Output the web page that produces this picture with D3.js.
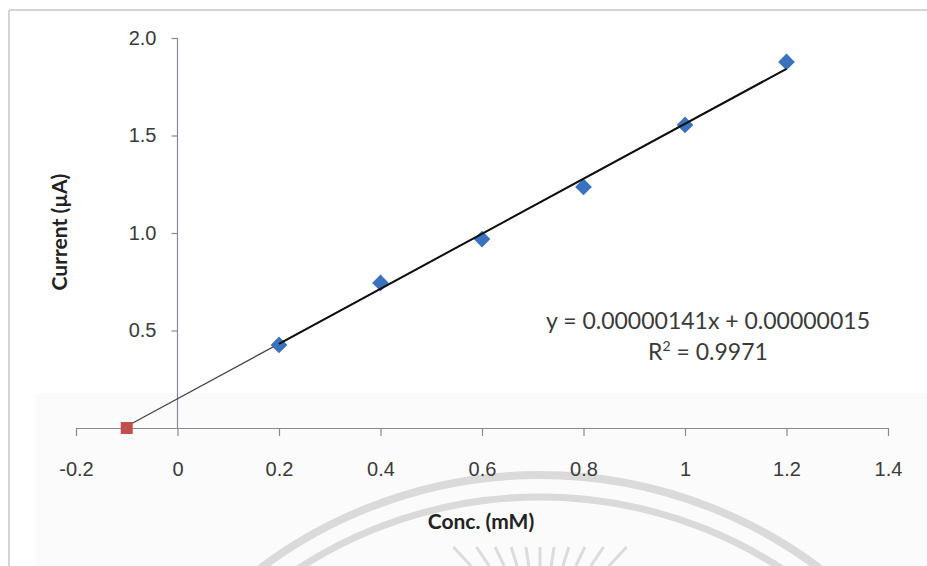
<!DOCTYPE html>
<html><head><meta charset="utf-8">
<script src="https://cdn.jsdelivr.net/npm/d3@7"></script>
<style>html,body{margin:0;padding:0;background:#fff;}svg{display:block;font-family:Lato,"Open Sans",sans-serif;}</style>
</head><body>
<svg id="c" width="927" height="566"></svg>
<script>
const concentrations = [0.2, 0.4, 0.6, 0.8, 1.0, 1.2];
const currents = [0.426, 0.744, 0.969, 1.236, 1.554, 1.877];
const interceptPoint = [{x: -0.1, y: 0}];
const fitSlope = 1.41, fitIntercept = 0.15;
const xTicks = [-0.2, 0, 0.2, 0.4, 0.6, 0.8, 1, 1.2, 1.4];
const xTickLabels = ["-0.2","0","0.2","0.4","0.6","0.8","1","1.2","1.4"];
const yTicks = [0.5, 1.0, 1.5, 2.0];
const yTickLabels = ["0.5","1.0","1.5","2.0"];
const equationText = "y = 0.00000141x + 0.00000015";
const r2Value = "0.9971";

const svg = d3.select("#c");
// background panel (faint)
svg.append("rect").attr("x",35).attr("y",393).attr("width",892).attr("height",173).attr("fill","#fbfbfc");
// watermark arcs
const wm = svg.append("g").attr("fill","none");
wm.append("circle").attr("cx",540).attr("cy",940).attr("r",465).attr("stroke","#dadada").attr("stroke-width",8);
wm.append("circle").attr("cx",540).attr("cy",940).attr("r",443).attr("stroke","#dadada").attr("stroke-width",7);
const rayAngles = [-0.75,-0.6,-0.45,-0.3,-0.15,0,0.15,0.3,0.45,0.6,0.75];
rayAngles.forEach(a=>{
  const cx=540, cy=640;
  wm.append("line").attr("x1",cx+Math.tan(a)*93).attr("y1",cy-93)
    .attr("x2",cx+Math.tan(a)*74).attr("y2",cy-74)
    .attr("stroke-width",3).attr("stroke","#dcdcdc");
});
// frame
svg.append("line").attr("x1",9).attr("y1",10).attr("x2",927).attr("y2",10).attr("stroke","#c8c4cc").attr("stroke-width",1.5);
svg.append("line").attr("x1",9).attr("y1",10).attr("x2",9).attr("y2",566).attr("stroke","#c8c4cc").attr("stroke-width",1.5);

const x = d3.scaleLinear().domain([-0.2, 1.4]).range([76, 888]);
const y = d3.scaleLinear().domain([0, 2.0]).range([428, 38]);

// x axis
const xAxis = d3.axisBottom(x).tickValues(xTicks).tickFormat((d,i)=>xTickLabels[i]).tickSizeInner(8).tickSizeOuter(0).tickPadding(26);
const gx = svg.append("g").attr("transform",`translate(0,${y(0)})`).call(xAxis);
gx.select(".domain").attr("stroke","#8c8894").attr("stroke-width",1.2);
gx.selectAll(".tick line").attr("stroke","#8c8894").attr("stroke-width",1.2);
gx.selectAll(".tick text").attr("font-size",20).attr("fill","#3a3a3a");

// y axis
const yAxis = d3.axisLeft(y).tickValues(yTicks).tickFormat((d,i)=>yTickLabels[i]).tickSizeInner(6).tickSizeOuter(0).tickPadding(15);
const gy = svg.append("g").attr("transform",`translate(${x(0)},0)`).call(yAxis);
gy.select(".domain").attr("stroke","#8c8894").attr("stroke-width",1.2).attr("d",`M0,${y(0)}V${y(2.0)}`);
gy.selectAll(".tick line").attr("stroke","#8c8894").attr("stroke-width",1.2);
gy.selectAll(".tick text").attr("font-size",20).attr("fill","#3a3a3a");

// lines
const fit = v => fitSlope*v + fitIntercept;
svg.append("line").attr("x1",x(interceptPoint[0].x)).attr("y1",y(fit(interceptPoint[0].x)))
  .attr("x2",x(concentrations[concentrations.length-1])).attr("y2",y(fit(concentrations[concentrations.length-1])))
  .attr("stroke","#444").attr("stroke-width",1.2);

// markers
svg.append("g").selectAll("path").data(concentrations).join("path")
  .attr("d", d3.symbol(d3.symbolSquare, 140))
  .attr("transform",(d,i)=>`translate(${x(d)},${y(currents[i])}) rotate(45)`)
  .attr("fill","#3a72bd");
svg.append("line").attr("x1",x(concentrations[0])).attr("y1",y(fit(concentrations[0])))
  .attr("x2",x(concentrations[concentrations.length-1])).attr("y2",y(fit(concentrations[concentrations.length-1])))
  .attr("stroke","#111").attr("stroke-width",2);
svg.append("g").selectAll("rect").data(interceptPoint).join("rect")
  .attr("x",d=>x(d.x)-6).attr("y",d=>y(d.y)-6).attr("width",12).attr("height",12).attr("fill","#c0504d");

// equation
svg.append("text").attr("x",708).attr("y",329).attr("text-anchor","middle").attr("font-size",23).attr("fill","#3a3a3a").text(equationText);
const r2 = svg.append("text").attr("x",708).attr("y",360).attr("text-anchor","middle").attr("font-size",23).attr("fill","#3a3a3a");
r2.append("tspan").text("R");
r2.append("tspan").attr("font-size",14).attr("dy",-9).text("2");
r2.append("tspan").attr("dy",9).text(" = " + r2Value);

// axis titles
svg.append("text").attr("transform","translate(67,232) rotate(-90)").attr("text-anchor","middle")
  .attr("font-size",21).attr("font-weight","bold").attr("fill","#222").text("Current (µA)");
svg.append("text").attr("x",481).attr("y",529).attr("text-anchor","middle")
  .attr("font-size",21).attr("font-weight","bold").attr("fill","#222").text("Conc. (mM)");
</script>
</body></html>
